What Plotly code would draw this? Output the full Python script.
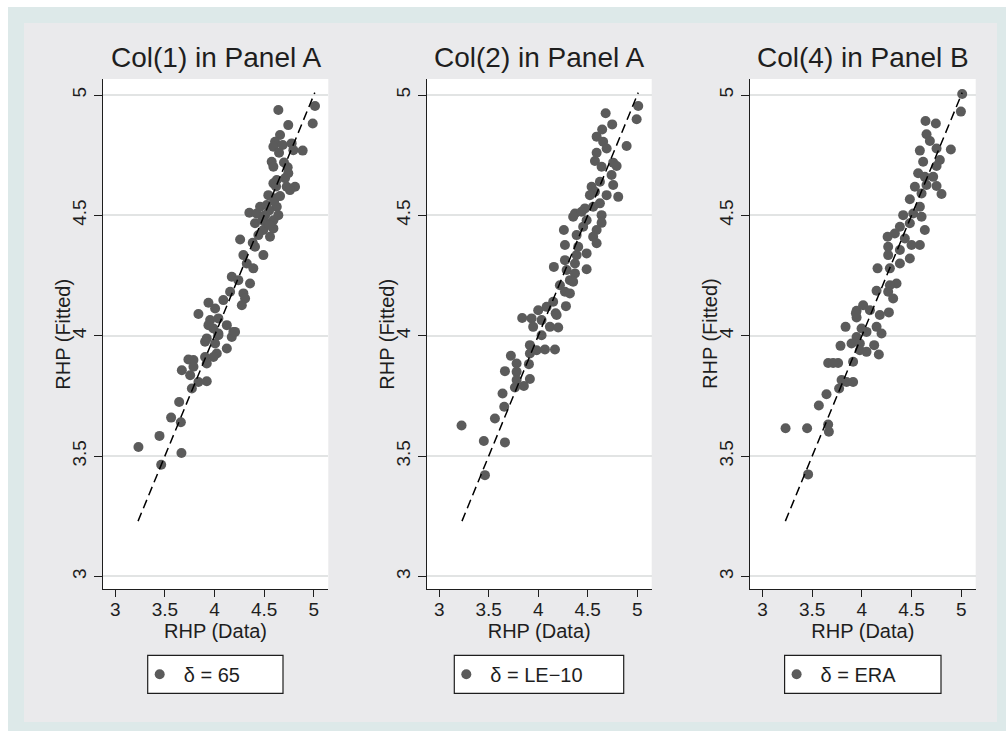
import plotly.graph_objects as go

# ---------------- data ----------------
titles = ["Col(1) in Panel A", "Col(2) in Panel A", "Col(4) in Panel B"]
legend_labels = ["δ = 65", "δ = LE−10", "δ = ERA"]
tick_vals = [3, 3.5, 4, 4.5, 5]
tick_text = ["3", "3.5", "4", "4.5", "5"]
fit_line = [3.23, 5.01]   # 45-degree reference line (min .. max of data)

p1_data = [4.643, 5.012, 4.989, 4.743, 4.66, 4.61, 4.593, 4.687, 4.777, 4.794, 4.888, 4.576, 4.593, 4.737,
           4.743, 4.71, 4.627, 4.727, 4.811, 4.76, 4.593, 4.542, 4.61, 4.459, 4.526, 4.627, 4.351, 4.425,
           4.509, 4.643, 4.593, 4.408, 4.526, 4.492, 4.593, 4.559, 4.442, 4.258, 4.385, 4.408, 4.492, 4.291,
           4.325, 4.391, 4.174, 4.24, 4.358, 4.157, 4.291, 4.308, 4.275, 4.089, 3.939, 3.838, 4.006, 3.956,
           4.039, 4.124, 3.989, 4.19, 3.922, 4.039, 4.174, 3.939, 4.039, 4.207, 3.905, 4.006, 4.124, 4.023,
           3.989, 3.905, 3.737, 3.788, 3.922, 3.788, 3.671, 3.755, 3.838, 3.922, 3.772, 3.644, 3.563, 3.661,
           3.446, 3.234, 3.667, 3.463, 4.55, 4.48, 4.6, 4.66, 4.7, 4.65, 4.55, 4.62]
p1_fitted = [4.938, 4.954, 4.882, 4.875, 4.834, 4.806, 4.785, 4.792, 4.799, 4.771, 4.769, 4.723, 4.702, 4.700,
             4.675, 4.654, 4.647, 4.619, 4.619, 4.605, 4.633, 4.584, 4.571, 4.536, 4.543, 4.536, 4.511, 4.508,
             4.501, 4.501, 4.48, 4.467, 4.467, 4.439, 4.446, 4.411, 4.418, 4.40, 4.386, 4.37, 4.335, 4.335,
             4.30, 4.28, 4.245, 4.231, 4.217, 4.183, 4.176, 4.155, 4.127, 4.148, 4.137, 4.09, 4.113, 4.065,
             4.072, 4.044, 4.030, 4.016, 3.989, 4.002, 3.995, 4.044, 4.009, 4.016, 3.975, 3.968, 3.947, 3.926,
             3.912, 3.912, 3.901, 3.899, 3.885, 3.871, 3.857, 3.836, 3.808, 3.811, 3.781, 3.725, 3.66, 3.641,
             3.584, 3.538, 3.513, 3.464, 4.52, 4.48, 4.56, 4.58, 4.72, 4.76, 4.46, 4.62]

p2_data = [5.010, 4.994, 4.681, 4.747, 4.646, 4.59, 4.656, 4.691, 4.893, 4.59, 4.573, 4.64, 4.757, 4.792,
           4.741, 4.757, 4.623, 4.539, 4.573, 4.522, 4.691, 4.808, 4.623, 4.472, 4.555, 4.371, 4.438, 4.64,
           4.353, 4.489, 4.64, 4.454, 4.59, 4.259, 4.388, 4.555, 4.59, 4.27, 4.404, 4.489, 4.388, 4.27,
           4.371, 4.158, 4.489, 4.287, 4.371, 4.32, 4.353, 4.219, 4.27, 4.32, 4.151, 4.28, 4.085, 4.0,
           4.176, 3.838, 3.933, 4.034, 3.949, 4.118, 4.202, 4.034, 4.186, 3.916, 3.984, 4.068, 4.169, 3.916,
           3.724, 3.782, 3.906, 3.664, 3.782, 3.916, 3.782, 3.855, 3.765, 3.64, 3.657, 3.563, 3.226, 3.451,
           3.664, 3.462]
p2_fitted = [4.954, 4.899, 4.924, 4.878, 4.857, 4.827, 4.806, 4.778, 4.788, 4.76, 4.726, 4.702, 4.719, 4.705,
             4.668, 4.626, 4.64, 4.619, 4.598, 4.584, 4.584, 4.577, 4.55, 4.529, 4.536, 4.508, 4.515, 4.501,
             4.494, 4.48, 4.469, 4.453, 4.439, 4.439, 4.418, 4.411, 4.384, 4.377, 4.37, 4.342, 4.335, 4.314,
             4.30, 4.286, 4.276, 4.273, 4.259, 4.231, 4.224, 4.21, 4.183, 4.176, 4.141, 4.123, 4.12, 4.106,
             4.093, 4.074, 4.072, 4.065, 4.037, 4.037, 4.034, 4.002, 4.086, 3.961, 3.94, 3.943, 3.943, 3.926,
             3.917, 3.885, 3.882, 3.853, 3.85, 3.82, 3.816, 3.791, 3.785, 3.76, 3.705, 3.656, 3.627, 3.563,
             3.557, 3.421]

p3_data = [5.01, 4.997, 4.641, 4.745, 4.651, 4.685, 4.752, 4.896, 4.584, 4.617, 4.785, 4.752, 4.567, 4.634,
           4.718, 4.534, 4.651, 4.752, 4.802, 4.601, 4.483, 4.584, 4.416, 4.517, 4.601, 4.483, 4.383, 4.634,
           4.332, 4.259, 4.433, 4.584, 4.5, 4.265, 4.383, 4.265, 4.483, 4.383, 4.158, 4.282, 4.349, 4.282,
           4.148, 4.265, 4.315, 4.013, 3.947, 4.081, 4.272, 3.947, 4.181, 3.836, 3.997, 4.148, 4.198, 3.947,
           4.047, 3.94, 3.785, 3.896, 3.98, 4.124, 3.98, 4.047, 4.171, 3.912, 3.661, 3.761, 3.711, 3.796,
           3.912, 3.846, 3.771, 3.644, 3.567, 3.661, 3.668, 3.232, 3.449, 3.459]
p3_fitted = [5.004, 4.931, 4.892, 4.882, 4.837, 4.809, 4.778, 4.774, 4.769, 4.723, 4.73, 4.705, 4.675, 4.66,
             4.66, 4.619, 4.626, 4.622, 4.589, 4.591, 4.567, 4.536, 4.501, 4.508, 4.494, 4.467, 4.453, 4.439,
             4.425, 4.411, 4.404, 4.377, 4.377, 4.37, 4.356, 4.335, 4.321, 4.30, 4.28, 4.28, 4.217, 4.21,
             4.187, 4.183, 4.155, 4.127, 4.104, 4.106, 4.097, 4.076, 4.086, 4.037, 4.030, 4.037, 4.009, 3.995,
             4.016, 4.093, 3.958, 3.968, 3.968, 3.961, 3.94, 3.933, 3.922, 3.892, 3.887, 3.887, 3.887, 3.816,
             3.808, 3.808, 3.781, 3.757, 3.71, 3.631, 3.601, 3.616, 3.616, 3.424]

panels = [(p1_data, p1_fitted), (p2_data, p2_fitted), (p3_data, p3_fitted)]

# ---------------- layout constants ----------------
W, H = 1006, 731
FONT = "Liberation Sans, Arial, Helvetica, sans-serif"
TXT = "#1e1e1e"
MARK = "#5b5b5b"
TEAL = "rgb(221,233,233)"
GRAY = "rgb(234,234,236)"

x_dom_px = [(102.7, 328.3), (426.7, 651.7), (750.0, 975.7)]
y_top_px, y_bot_px = 79.0, 589.0
legend_box_px = [(147.7, 283.0), (454.3, 623.7), (784.6, 941.0)]
legend_y_px = (655.3, 693.3)

xr = [2.874, 5.146]
yr = [2.948, 5.0665]

fig = go.Figure()

shapes = [
    dict(type="rect", xref="paper", yref="paper", x0=8 / W, x1=1, y0=0, y1=1 - 7 / H,
         fillcolor=TEAL, line=dict(width=0), layer="below"),
    dict(type="rect", xref="paper", yref="paper", x0=24 / W, x1=997 / W, y0=1 - 722 / H, y1=1 - 23 / H,
         fillcolor=GRAY, line=dict(width=0), layer="below"),
]
annotations = []
layout_axes = {}

for i, ((xd, yf), title, lab) in enumerate(zip(panels, titles, legend_labels)):
    n = "" if i == 0 else str(i + 1)
    xa, ya = "x" + n, "y" + n
    lg = "legend" + n
    x0p, x1p = x_dom_px[i]
    dom_x = [x0p / W, x1p / W]
    dom_y = [1 - y_bot_px / H, 1 - y_top_px / H]

    # white plot region
    shapes.append(dict(type="rect", xref="paper", yref="paper", x0=dom_x[0], x1=dom_x[1],
                       y0=dom_y[0], y1=dom_y[1], fillcolor="white", line=dict(width=0), layer="below"))

    fig.add_trace(go.Scatter(x=xd, y=yf, mode="markers", xaxis=xa, yaxis=ya, name=lab,
                             marker=dict(size=10, color=MARK, line=dict(width=0)),
                             showlegend=True, legend=lg))
    fig.add_trace(go.Scatter(x=fit_line, y=fit_line, mode="lines", xaxis=xa, yaxis=ya,
                             line=dict(color="black", width=1.5, dash="9px,5px"),
                             showlegend=False, hoverinfo="skip"))

    layout_axes["xaxis" + n] = dict(
        domain=dom_x, range=xr, anchor=ya, tickvals=tick_vals, ticktext=tick_text,
        showgrid=False, zeroline=False, showline=True, linecolor=TXT, linewidth=1.3,
        ticks="outside", ticklen=7, tickwidth=1.3, tickcolor=TXT,
        tickfont=dict(size=19, color=TXT, family=FONT), ticklabelstandoff=-4,
        title=dict(text="RHP (Data)", font=dict(size=20, color=TXT, family=FONT), standoff=5),
        automargin=False,
    )
    layout_axes["yaxis" + n] = dict(
        domain=dom_y, range=yr, anchor=xa, tickvals=tick_vals, ticktext=tick_text, tickangle=-90,
        showgrid=True, gridcolor="rgb(226,228,228)", gridwidth=1.5, zeroline=False,
        showline=True, linecolor=TXT, linewidth=1.3,
        ticks="outside", ticklen=8, tickwidth=1.3, tickcolor=TXT,
        tickfont=dict(size=19, color=TXT, family=FONT),
        automargin=False,
    )

    # y-axis title
    annotations.append(dict(text="RHP (Fitted)", xref="paper", yref="paper", x=(x0p - 40) / W,
                            y=(dom_y[0] + dom_y[1]) / 2, xanchor="center", yanchor="middle",
                            textangle=-90, showarrow=False,
                            font=dict(size=20, color=TXT, family=FONT)))

    # panel title
    annotations.append(dict(text=title, xref="paper", yref="paper", x=(dom_x[0] + dom_x[1]) / 2,
                            y=1 - 58 / H, xanchor="center", yanchor="middle", showarrow=False,
                            font=dict(size=28, color=TXT, family=FONT)))

    # legend box
    bx0, bx1 = legend_box_px[i]
    shapes.append(dict(type="rect", xref="paper", yref="paper", x0=bx0 / W, x1=bx1 / W,
                       y0=1 - legend_y_px[1] / H, y1=1 - legend_y_px[0] / H,
                       fillcolor="white", line=dict(color=TXT, width=1.2), layer="below"))
    layout_axes[lg] = dict(
        x=(bx0 - 12) / W, xanchor="left", y=1 - (legend_y_px[0] + legend_y_px[1]) / 2 / H, yanchor="middle",
        bgcolor="rgba(0,0,0,0)", borderwidth=0, orientation="h", itemwidth=38,
        font=dict(size=20, color=TXT, family=FONT),
    )

fig.update_layout(
    width=W, height=H, autosize=False,
    margin=dict(l=0, r=0, t=0, b=0),
    paper_bgcolor="white", plot_bgcolor="rgba(0,0,0,0)",
    shapes=shapes, annotations=annotations,
    font=dict(family=FONT, color=TXT),
    **layout_axes,
)

fig.write_html("out.html")
